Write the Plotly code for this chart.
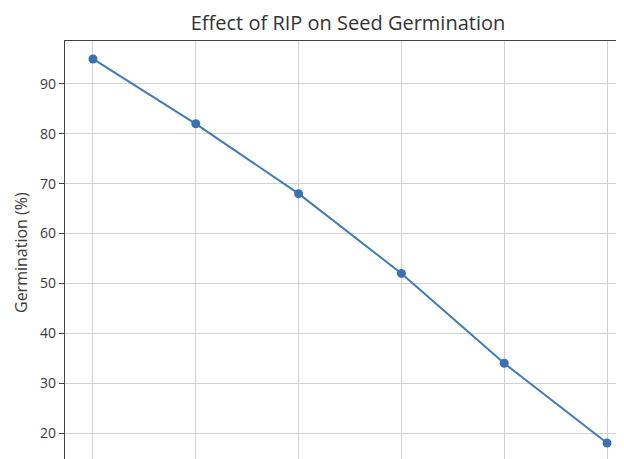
import plotly.graph_objects as go

rip_levels = [0, 1, 2, 3, 4, 5]
germination = [95, 82, 68, 52, 34, 18]
y_ticks = [20, 30, 40, 50, 60, 70, 80, 90]

# page is rendered with an 8px body margin; figure sized to fill the rest
W, H = 616, 451
L, T = 57, 33
plot_w = W - L

fig = go.Figure()
fig.add_trace(go.Scatter(
    x=rip_levels, y=germination, mode="lines+markers",
    line=dict(color="#3f7cb8", width=2),
    marker=dict(color="#3a72b0", size=9),
    showlegend=False,
))

font = "Open Sans, sans-serif"
fig.update_layout(
    width=W, height=H,
    margin=dict(l=L, r=0, t=T, b=0, autoexpand=False),
    paper_bgcolor="white", plot_bgcolor="white",
    title=dict(text="Effect of RIP on Seed Germination", x=340 / W, xanchor="center",
               y=1 - 15 / H, yanchor="middle",
               font=dict(family=font, size=20, color="#333333")),
    font=dict(family=font, size=14, color="#3a3a3a"),
    xaxis=dict(
        range=[-0.272, 5.165], side="top", tickvals=rip_levels,
        showticklabels=False, ticks="",
        showgrid=True, gridcolor="#d2d2d2", gridwidth=1.3,
        showline=True, linecolor="#444444", linewidth=1.3, zeroline=False,
    ),
    yaxis=dict(
        range=[14.8, 98.6], tickvals=y_ticks,
        ticks="outside", ticklen=5, tickcolor="#444444",
        showgrid=True, gridcolor="#d2d2d2", gridwidth=1.3,
        showline=True, linecolor="#444444", linewidth=1.3, zeroline=False,
        tickfont=dict(family=font, size=14, color="#3a3a3a"),
        automargin=False,
    ),
    annotations=[dict(
        text="Germination (%)", textangle=-90,
        xref="paper", yref="paper", x=-(L - 13) / plot_w, y=(451 - (253 - 8)) / (H - T),
        xanchor="center", yanchor="middle", showarrow=False,
        font=dict(family=font, size=16, color="#3a3a3a"),
    )],
)

fig.write_html("out.html")
